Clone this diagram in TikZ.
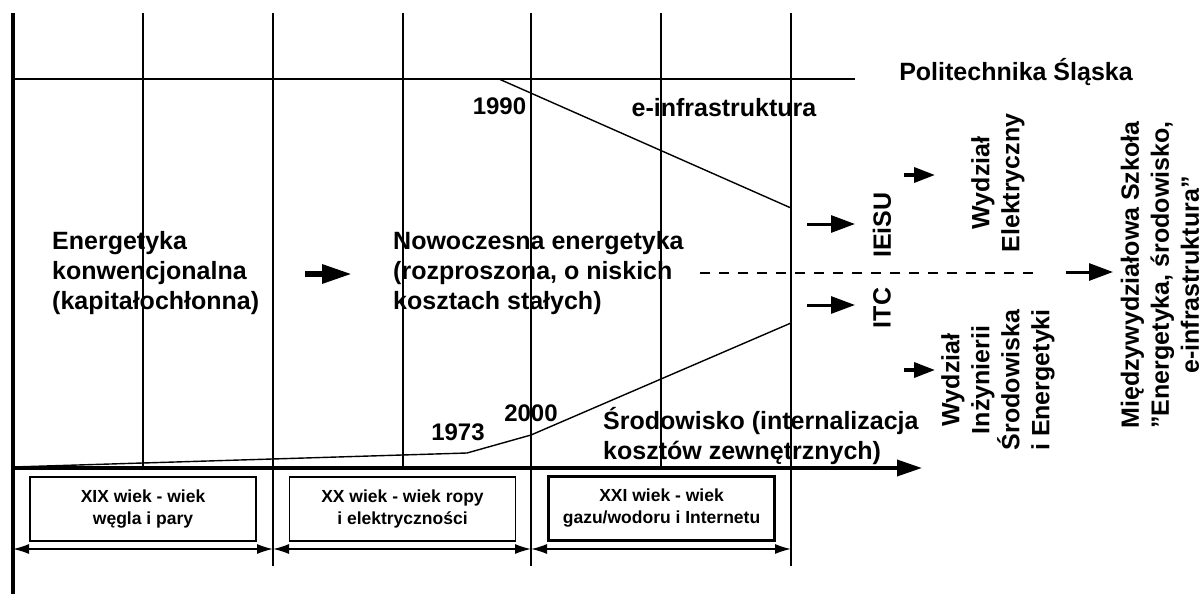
\documentclass[tikz,border=0pt]{standalone}
\usepackage{fontspec}
\setmainfont{Liberation Sans}
\usetikzlibrary{arrows.meta}
\begin{document}
\begin{tikzpicture}[x=1pt,y=-1pt,
  thin/.style={line width=1.4pt},
  big/.style={font=\fontsize{25}{30}\selectfont\bfseries, inner sep=0pt},
  yr/.style={font=\fontsize{24}{28}\selectfont\bfseries, inner sep=0pt},
  period/.style={draw, line width=1.4pt, minimum width=226pt, minimum height=64pt, inner sep=0pt, align=center, font=\fontsize{17.5}{22}\selectfont\bfseries},
  arr/.style={line width=3pt, -{Triangle[length=24pt,width=17pt]}},
  sarr/.style={line width=3.5pt, -{Triangle[length=21pt,width=15pt]}},
  darr/.style={line width=1.4pt, {Latex[length=16pt,width=10pt]}-{Latex[length=16pt,width=10pt]}}
]
\useasboundingbox (0,0) rectangle (1203,594);

% key coordinates
\coordinate (top0) at (13,13);
\coordinate (bot0) at (13,594);
\foreach \n/\x/\y in {1/143/468,2/273/566,3/403/468,4/531/566,5/661/468,6/791/566}{
  \coordinate (vt\n) at (\x,13);
  \coordinate (vb\n) at (\x,\y);
}
\coordinate (hl) at (13,79);
\coordinate (hr) at (855,79);
\coordinate (ax0) at (13,468);
\coordinate (ax1) at (922,468);
\coordinate (d0) at (13,549);
\coordinate (d1) at (273,549);
\coordinate (d2) at (531,549);
\coordinate (d3) at (791,549);
\coordinate (u0) at (499,79);
\coordinate (u1) at (791,208);
\coordinate (l0) at (13,467);
\coordinate (l1) at (467,453);
\coordinate (l2) at (531,435);
\coordinate (l3) at (791,323);
\coordinate (ds0) at (700,273);
\coordinate (ds1) at (1034,273);

% grid
\draw[line width=3.5pt] (top0) -- (bot0);
\foreach \n in {1,...,6}{\draw[thin] (vt\n) -- (vb\n);}
\draw[thin] (hl) -- (hr);
\draw[line width=3.5pt, -{Triangle[length=25pt,width=16pt]}] (ax0) -- (ax1);

% curves
\draw[thin] (u0) -- (u1);
\draw[thin] (l0) -- (l1) -- (l2) -- (l3);
\draw[line width=2.5pt, dash pattern=on 10pt off 9pt] (ds0) -- (ds1);

% period boxes
\node[period] (p1) at (143,509) {XIX wiek - wiek\\węgla i pary};
\node[period] (p2) at (402.5,509) {XX wiek - wiek ropy\\i elektryczności};
\node[period, line width=3pt] (p3) at (661.5,508) {XXI wiek - wiek\\gazu/wodoru i Internetu};
\draw[darr] (d0) -- (d1);
\draw[darr] (d1) -- (d2);
\draw[darr] (d2) -- (d3);

% texts
\node[big, align=left, anchor=west] (konw) at (52,273) {Energetyka\\konwencjonalna\\(kapitałochłonna)};
\node[big, align=left, anchor=west] (now) at (393,273) {Nowoczesna energetyka\\(rozproszona, o niskich\\kosztach stałych)};
\coordinate (ca0) at (305,274);
\coordinate (ca1) at (352,274);
\draw[line width=6pt, -{Triangle[length=30pt,width=18pt]}] (ca0) -- (ca1);

\node[yr] (y1990) at (499.5,106) {1990};
\node[big] (einf) at (724,108) {e-infrastruktura};
\node[yr] (y1973) at (458,432) {1973};
\node[yr] (y2000) at (531,413) {2000};
\node[big, align=left, anchor=west] (srod) at (603,436) {Środowisko (internalizacja\\kosztów zewnętrznych)};
\node[big] (pols) at (1016,72) {Politechnika Śląska};

% right side
\node[big, rotate=90] (ieisu) at (882,225) {IEiSU};
\node[big, rotate=90] (itc) at (882,308) {ITC};
\node[big, rotate=90, align=center] (we) at (998,183) {Wydział\\Elektryczny};
\node[big, rotate=90, align=center] (wise) at (998,380) {Wydział\\Inżynierii\\Środowiska\\i Energetyki};
\node[big, rotate=90, align=center] (mws) at (1160,275) {Międzywydziałowa Szkoła\\{\char34}Energetyka, środowisko,\\e-infrastruktura{\char34}};

\coordinate (a1s) at (807,224);
\coordinate (a2s) at (807,305);
\coordinate (a3s) at (904,175);
\coordinate (a4s) at (904,370);
\coordinate (a5s) at (1066,272);
\draw[arr] (a1s) -- (855,224);
\draw[arr] (a2s) -- (855,305);
\draw[sarr] (a3s) -- (935,175);
\draw[sarr] (a4s) -- (935,370);
\draw[arr] (a5s) -- (1113,272);
\end{tikzpicture}
\end{document}
